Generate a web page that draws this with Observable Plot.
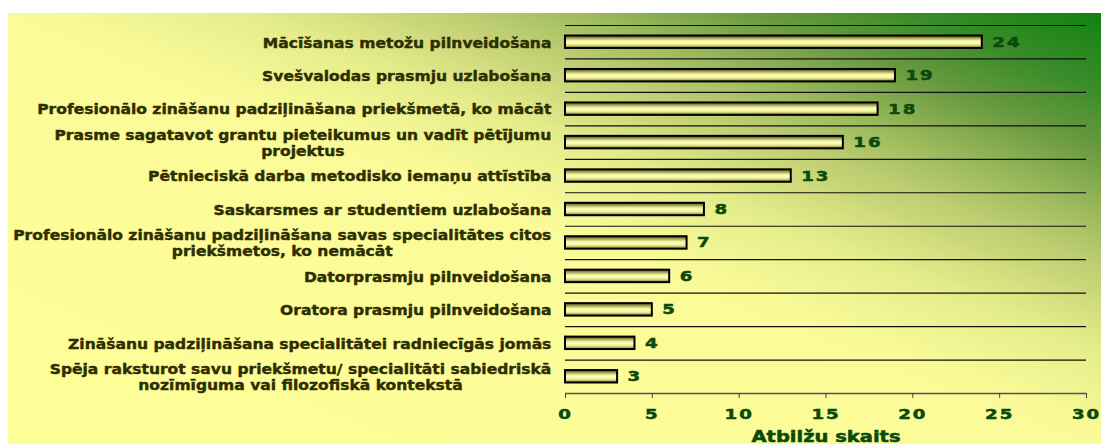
<!DOCTYPE html>
<html>
<head>
<meta charset="utf-8">
<script src="https://cdn.jsdelivr.net/npm/d3@7"></script>
<script src="https://cdn.jsdelivr.net/npm/@observablehq/plot@0.6"></script>
<style>
  html, body { margin: 0; padding: 0; background: #ffffff; width: 1101px; height: 444px; overflow: hidden; }
  #bg {
    position: absolute; left: 8px; top: 13px; width: 1093px; height: 431px;
    background: linear-gradient(to bottom left, #128212 0%, #3a8c2a 9%, #6a9a40 16%, #9ebc5e 24%, #bccc70 29%, #e4ec8a 39%, #fafa98 49%, #ffff99 100%);
  }
  #chart { position: absolute; left: 0; top: 0; }
</style>
</head>
<body>
<div id="bg"></div>
<div id="chart"></div>
<script>
const categories = [
  "Mācīšanas metožu pilnveidošana",
  "Svešvalodas prasmju uzlabošana",
  "Profesionālo zināšanu padziļināšana priekšmetā, ko mācāt",
  "Prasme sagatavot grantu pieteikumus un vadīt pētījumu\nprojektus",
  "Pētnieciskā darba metodisko iemaņu attīstība",
  "Saskarsmes ar studentiem uzlabošana",
  "Profesionālo zināšanu padziļināšana savas specialitātes citos\npriekšmetos, ko nemācāt",
  "Datorprasmju pilnveidošana",
  "Oratora prasmju pilnveidošana",
  "Zināšanu padziļināšana specialitātei radniecīgās jomās",
  "Spēja raksturot savu priekšmetu/ specialitāti sabiedriskā\nnozīmīguma vai filozofiskā kontekstā"
];
const values = [24, 19, 18, 16, 13, 8, 7, 6, 5, 4, 3];
const xTicks = [0, 5, 10, 15, 20, 25, 30];
const xLabel = "Atbilžu skaits";

const data = categories.map((c, i) => ({cat: c, value: values[i], i}));

// horizontal stretch of the lettering, as in the reference
const catStretch = 1.11;
const numStretch = 1.3;

const labelFont = "bold 14px 'DejaVu Sans'";
const canvas = document.createElement("canvas");
const ctx = canvas.getContext("2d");
ctx.font = labelFont;

const labelMarks = data.map(d => {
  const lines = d.cat.split("\n");
  const w = d3.max(lines, l => ctx.measureText(l).width) * catStretch;
  return Plot.text([d], {
    x: () => 0,
    y: r => r.i + 0.5,
    text: "cat",
    textAnchor: "middle",
    lineAnchor: "middle",
    lineHeight: 16.5 / 14,
    dx: -14 - w / 2,
    fill: "#2e2e00",
    stroke: "#2e2e00",
    strokeWidth: 0.4,
    fontSize: 14,
    fontWeight: "bold",
    fontFamily: "DejaVu Sans",
    ariaDescription: "catlabel"
  });
});

const n = categories.length;
const svg = Plot.plot({
  width: 1101,
  height: 444,
  marginLeft: 565,
  marginRight: 15,
  marginTop: 25,
  marginBottom: 51,
  style: {background: "transparent", overflow: "visible", fontFamily: "DejaVu Sans"},
  x: {domain: [0, 30]},
  y: {domain: [n, 0], axis: null},
  marks: [
    Plot.ruleY(d3.range(n), {stroke: "#111", strokeWidth: 1.2}),
    Plot.ruleY([n], {stroke: "#555", strokeWidth: 1.5}),
    Plot.rectX(data, {
      x1: 0, x2: "value",
      y1: d => d.i, y2: d => d.i + 1,
      insetTop: 10.5, insetBottom: 10.5,
      fill: "url(#barGrad)", stroke: "#000", strokeWidth: 2
    }),
    Plot.text(data, {
      x: "value", y: d => d.i + 0.5, text: d => String(d.value),
      dx: 10, textAnchor: "start", lineAnchor: "middle",
      fill: "#0b4a0b", stroke: "#0b4a0b", strokeWidth: 0.5,
      fontSize: 14, fontWeight: "bold",
      ariaDescription: "values"
    }),
    Plot.axisX({
      ticks: xTicks, tickSize: 5, tickPadding: 11, label: null,
      stroke: "#444", fill: "#0b4a0b", fontSize: 14, fontWeight: "bold"
    }),
    Plot.text([xLabel], {
      frameAnchor: "bottom", dy: 44, lineAnchor: "middle",
      fill: "#0b4a0b", stroke: "#0b4a0b", strokeWidth: 0.5,
      fontSize: 15, fontWeight: "bold",
      ariaDescription: "title"
    }),
    ...labelMarks
  ]
});

const defs = d3.select(svg).insert("defs", ":first-child");
const g = defs.append("linearGradient").attr("id", "barGrad")
  .attr("x1", 0).attr("y1", 0).attr("x2", 0).attr("y2", 1);
[[0, "#4d4d1a"], [0.15, "#8a8a40"], [0.4, "#f0f0a0"], [0.55, "#ffffc0"], [0.75, "#e8e888"], [0.9, "#a0a050"], [1, "#5a5a20"]]
  .forEach(([o, c]) => g.append("stop").attr("offset", o).attr("stop-color", c));

function stretch(sel, k) {
  sel.each(function() {
    const t = this.getAttribute("transform") || "";
    this.setAttribute("transform", t + ` scale(${k},1)`);
  });
}
const S = d3.select(svg);
const numTexts = S.selectAll('g[aria-description="values"] text, g[aria-label="x-axis tick label"] text');
numTexts.attr("letter-spacing", 1.5);
S.selectAll('g[aria-label="x-axis tick label"] text').attr("stroke", "#0b4a0b").attr("stroke-width", 0.5);
stretch(numTexts, numStretch);
stretch(S.selectAll('g[aria-description="title"] text'), numStretch);
stretch(S.selectAll('g[aria-description="catlabel"] text'), catStretch);

document.getElementById("chart").appendChild(svg);
</script>
</body>
</html>
